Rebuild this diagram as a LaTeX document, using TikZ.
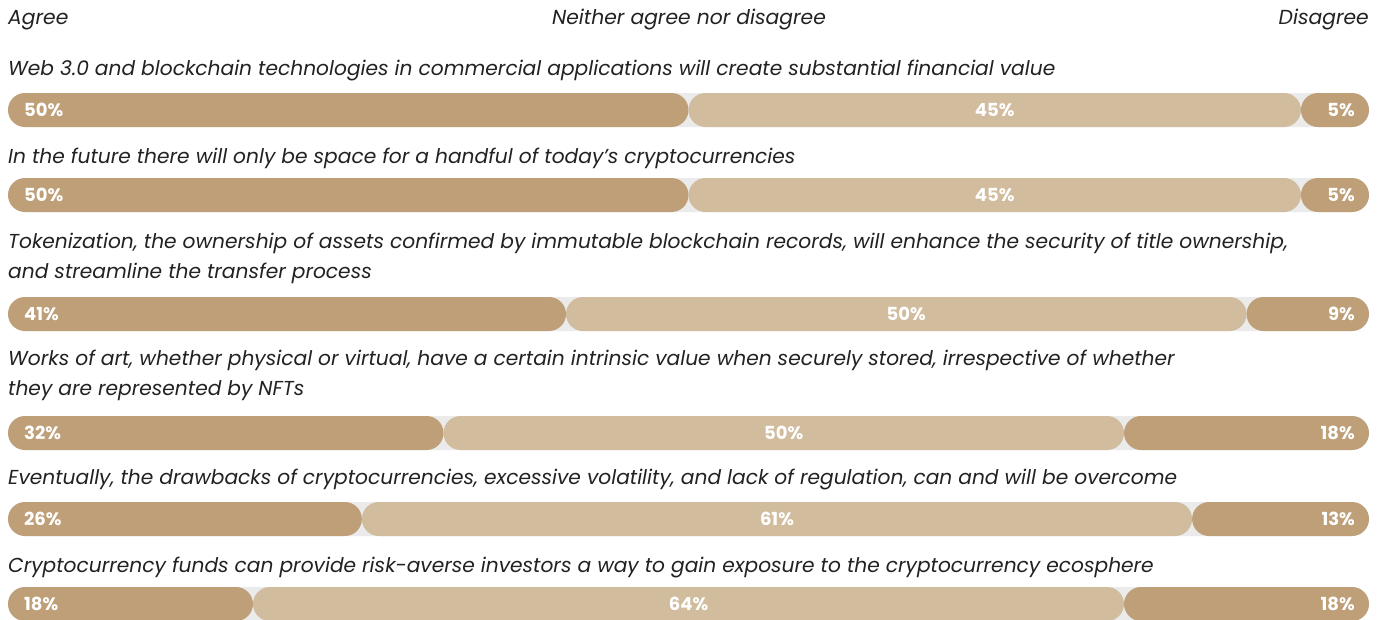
\documentclass[tikz,border=0pt]{standalone}
\usepackage{fontspec}
\setmainfont{Poppins}
\definecolor{tandark}{HTML}{BE9F78}
\definecolor{tanlight}{HTML}{D1BC9E}
\definecolor{trackgray}{HTML}{EBEBEB}
\definecolor{inkgray}{HTML}{222222}
\tikzset{
  question/.style={anchor=base west, inner sep=0pt, text=inkgray,
    font=\fontsize{20.2}{29.5}\selectfont\itshape, align=left},
  scale label/.style={inner sep=0pt, text=inkgray,
    font=\fontsize{20.3}{24}\selectfont\itshape},
  pct/.style={inner sep=0pt, text=white, font=\fontsize{18}{20}\selectfont\bfseries},
  track/.style={fill=trackgray, rounded corners=17pt},
  agreebar/.style={fill=tandark, rounded corners=17pt},
  neutralbar/.style={fill=tanlight, rounded corners=17pt},
}
\begin{document}
\begin{tikzpicture}[x=1pt,y=-1pt]
  \useasboundingbox[fill=white] (0,0) rectangle (1386,619);
  % answer scale
  \node[scale label, anchor=west] (agree) at (8,20) {Agree};
  \node[scale label] (neither) at (689,20) {Neither agree nor disagree};
  \node[scale label, anchor=east] (disagree) at (1369,20) {Disagree};
  % statements (two-line ones sit on the baseline of their last line)
  \node[question] (q1) at (8,75) {Web 3.0 and blockchain technologies in commercial applications will create substantial financial value};
  \node[question] (q2) at (8,163) {In the future there will only be space for a handful of today's cryptocurrencies};
  \node[question] (q3) at (8,278) {Tokenization, the ownership of assets confirmed by immutable blockchain records, will enhance the security of title ownership,\\and streamline the transfer process};
  \node[question] (q4) at (8,395) {Works of art, whether physical or virtual, have a certain intrinsic value when securely stored, irrespective of whether\\they are represented by NFTs};
  \node[question] (q5) at (8,484) {Eventually, the drawbacks of cryptocurrencies, excessive volatility, and lack of regulation, can and will be overcome};
  \node[question] (q6) at (8,572) {Cryptocurrency funds can provide risk-averse investors a way to gain exposure to the cryptocurrency ecosphere};
  % bars
  \foreach \yc/\pa/\pn/\pd [count=\r] in {110/50/45/5, 195/50/45/5, 314/41/50/9, 433/32/50/18, 519/26/61/13, 604/18/64/18}{
    \pgfmathsetmacro{\xa}{8+13.61*\pa}
    \pgfmathsetmacro{\xb}{\xa+13.61*\pn}
    \fill[track] (8,\yc-17) rectangle (1369,\yc+17);
    \fill[agreebar] (8,\yc-17) rectangle (\xa,\yc+17);
    \fill[neutralbar] (\xa,\yc-17) rectangle (\xb,\yc+17);
    \fill[agreebar] (\xb,\yc-17) rectangle (1369,\yc+17);
    \node[pct, anchor=west] (agree\r) at (24,\yc) {\pa\%};
    \node[pct] (neutral\r) at ({(\xa+\xb)/2},\yc) {\pn\%};
    \node[pct, anchor=east] (disagree\r) at (1355,\yc) {\pd\%};
  }
\end{tikzpicture}
\end{document}
